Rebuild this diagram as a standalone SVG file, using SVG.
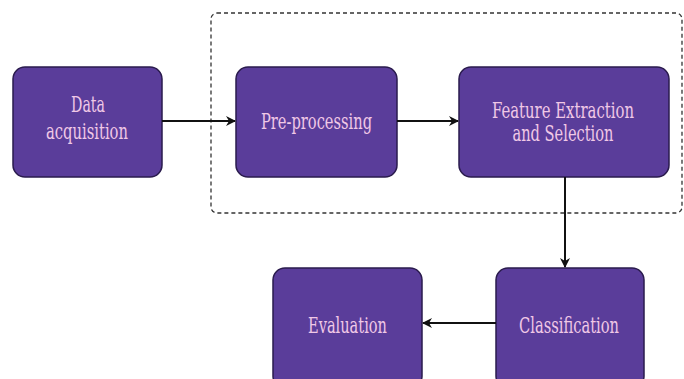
<svg xmlns="http://www.w3.org/2000/svg" width="684" height="379" viewBox="0 0 684 379">
<defs>
<style>
.node rect{fill:#5a3d9a;stroke:#2a1b4d;stroke-width:1.5}
.node text{font-family:"DejaVu Serif Condensed","DejaVu Serif",serif;font-size:22px;fill:#f0c8e6;text-anchor:middle}
.conn line{stroke:#111;stroke-width:2;fill:none}
</style>
<marker id="ah" viewBox="0 0 10 10" refX="9" refY="5" markerWidth="10" markerHeight="11" orient="auto" markerUnits="userSpaceOnUse">
<path d="M0,0 L10,5 L0,10 L3,5 Z" fill="#111"/>
</marker>
</defs>
<rect width="684" height="379" fill="#fff"/>
<rect id="group" x="211" y="13" width="471" height="200" rx="6" fill="none" stroke="#333" stroke-width="1.3" stroke-dasharray="4,3"/>
<g id="data-acquisition" class="node">
<rect x="13" y="67" width="149" height="110" rx="12"/>
<text x="88" y="112" textLength="34" lengthAdjust="spacingAndGlyphs">Data</text>
<text x="87" y="139" textLength="82" lengthAdjust="spacingAndGlyphs">acquisition</text>
</g>
<g id="pre-processing" class="node">
<rect x="236" y="67" width="161" height="110" rx="12"/>
<text x="316.5" y="129" textLength="111" lengthAdjust="spacingAndGlyphs">Pre-processing</text>
</g>
<g id="feature-extraction" class="node">
<rect x="459" y="67" width="210" height="110" rx="12"/>
<text x="563" y="118" textLength="142" lengthAdjust="spacingAndGlyphs">Feature Extraction</text>
<text x="563" y="141" textLength="101" lengthAdjust="spacingAndGlyphs">and Selection</text>
</g>
<g id="evaluation" class="node">
<rect x="273" y="268" width="149" height="120" rx="12"/>
<text x="347.5" y="333" textLength="79" lengthAdjust="spacingAndGlyphs">Evaluation</text>
</g>
<g id="classification" class="node">
<rect x="496" y="268" width="148" height="120" rx="12"/>
<text x="569" y="333" textLength="100" lengthAdjust="spacingAndGlyphs">Classification</text>
</g>
<g id="connectors" class="conn">
<line x1="162" y1="121" x2="235" y2="121" marker-end="url(#ah)"/>
<line x1="397" y1="121" x2="458" y2="121" marker-end="url(#ah)"/>
<line x1="565" y1="177" x2="565" y2="267" marker-end="url(#ah)"/>
<line x1="496" y1="323" x2="423" y2="323" marker-end="url(#ah)"/>
</g>
</svg>
